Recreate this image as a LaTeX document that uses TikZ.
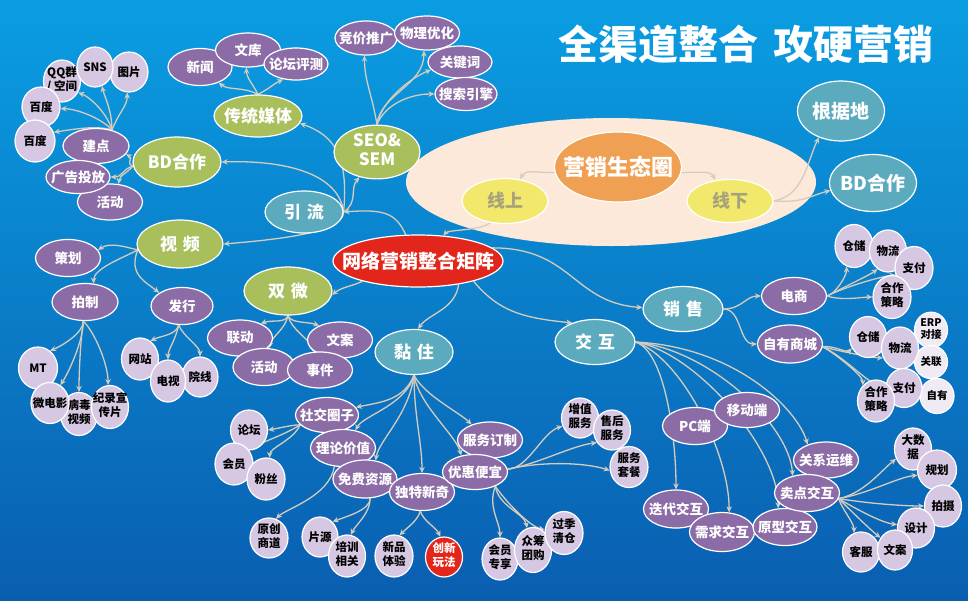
\documentclass[tikz,border=0pt]{standalone}
\usepackage{fontspec}
\setmainfont{Noto Sans CJK SC}
\usetikzlibrary{shapes.geometric,arrows.meta}
\pgfdeclarelayer{bg}
\pgfdeclarelayer{edges}
\pgfsetlayers{bg,edges,main}
\definecolor{bgtop}{HTML}{0A9DE2}
\definecolor{bgbot}{HTML}{0A5EB0}
\definecolor{purp}{HTML}{8C6CA6}
\definecolor{lav}{HTML}{D6C8E2}
\definecolor{lavw}{HTML}{EFEAF3}
\definecolor{grn}{HTML}{A8BF5C}
\definecolor{tealc}{HTML}{5BAABD}
\definecolor{redc}{HTML}{E3261B}
\definecolor{orng}{HTML}{EFA052}
\definecolor{yel}{HTML}{F2E96C}
\definecolor{yeltext}{HTML}{A6A27C}
\definecolor{cream}{HTML}{FCE9DA}
\definecolor{edgec}{HTML}{D4CDBE}
\newcommand\mk[1]{\makebox[0pt]{#1}}
\newcommand\mkk[2]{\makebox[0pt]{\begin{tabular}{@{}c@{}}#1\\#2\end{tabular}}}
\begin{document}
\begin{tikzpicture}[x=1pt,y=-1pt,
  sz/.style 2 args={minimum width=#1pt,minimum height=#2pt},
  base/.style={ellipse,inner sep=0pt,draw=white,line width=1.2pt},
  pn/.style={base,fill=purp,text=white,font=\bfseries\fontsize{13.5}{15}\selectfont},
  ln/.style={base,fill=lav,text=black,font=\bfseries\fontsize{11.5}{14}\selectfont},
  lw/.style={ln,fill=lavw,font=\bfseries\fontsize{10.5}{12.5}\selectfont},
  gn/.style={base,fill=grn,text=white,font=\bfseries\fontsize{17}{19}\selectfont},
  tn/.style={base,fill=tealc,text=white,font=\bfseries\fontsize{17}{19}\selectfont},
  yn/.style={base,fill=yel,text=yeltext,font=\bfseries\fontsize{18}{20}\selectfont},
  cn/.style={draw=edgec,line width=1.3pt,-{Stealth[length=6pt,width=5.5pt]}}]
\useasboundingbox (0,0) rectangle (968,600);
\begin{pgfonlayer}{bg}
\fill[top color=bgtop,bottom color=bgbot] (0,0) rectangle (968,600);
\fill[cream] (611,182) ellipse (205 and 64);
\end{pgfonlayer}

\node[font=\bfseries\fontsize{40}{42}\selectfont,text=white] (title) at (746,44) {全渠道整合\hspace{15pt}攻硬营销};

% ---------- ecosystem ----------
\node[base,fill=orng,text=white,font=\bfseries\fontsize{22}{24}\selectfont,sz={127}{70}] (ysq) at (618,167) {\mk{营销生态圈}};
\node[yn,sz={86}{45}] (xs) at (505,201) {\mk{线上}};
\node[yn,sz={86}{43}] (xx) at (730,201) {\mk{线下}};
\node[tn,font=\bfseries\fontsize{19}{21}\selectfont,sz={87}{60}] (gjd) at (841,111) {\mk{根据地}};
\node[tn,font=\bfseries\fontsize{19}{21}\selectfont,sz={87}{57}] (bd2) at (873,183) {\mk{BD合作}};

% ---------- center ----------
\node[base,fill=redc,text=white,font=\bfseries\fontsize{19}{21}\selectfont,sz={170}{52}] (wl) at (418,261) {\mk{网络营销整合矩阵}};

% ---------- top left ----------
\node[ln,sz={38}{40}] (tp) at (129,72) {\mk{图片}};
\node[ln,sz={37}{42}] (qq) at (62,81) {\mkk{QQ群}{/ 空间}};
\node[ln,sz={36}{40}] (sns) at (95,67) {\mk{SNS}};
\node[ln,sz={38}{40}] (bda) at (41,107) {\mk{百度}};
\node[ln,sz={40}{42}] (bdb) at (35,141) {\mk{百度}};
\node[pn,sz={65}{36}] (hd1) at (110,202) {\mk{活动}};
\node[pn,sz={66}{35}] (jd) at (96,146) {\mk{建点}};
\node[pn,sz={64}{33}] (ggtf) at (78,177) {\mk{广告投放}};
\node[gn,sz={88}{50}] (bd1) at (177,162) {\mk{BD合作}};

% ---------- top middle ----------
\node[pn,sz={64}{37}] (xw) at (200,67) {\mk{新闻}};
\node[pn,sz={65}{34}] (wk) at (248,50) {\mk{文库}};
\node[pn,sz={64}{32}] (ltpc) at (296,64) {\mk{论坛评测}};
\node[gn,sz={88}{42}] (ctmt) at (258,116) {\mk{传统媒体}};
\node[pn,sz={62}{34}] (jjtg) at (366,38) {\mk{竞价推广}};
\node[pn,sz={65}{34}] (wlyh) at (427,33) {\mk{物理优化}};
\node[pn,sz={64}{32}] (gjc) at (460,62) {\mk{关键词}};
\node[pn,sz={62}{33}] (ssyq) at (466,94) {\mk{搜索引擎}};
\node[gn,sz={86}{52}] (seo) at (377,152) {\mkk{SEO\&}{SEM}};
\node[tn,sz={78}{42}] (yl) at (304,212) {\mk{引\hspace{6pt}流}};

% ---------- left ----------
\node[gn,sz={86}{48}] (sp) at (180,244) {\mk{视\hspace{6pt}频}};
\node[pn,sz={65}{37}] (ch) at (68,258) {\mk{策划}};
\node[pn,sz={66}{37}] (pz) at (85,302) {\mk{拍制}};
\node[pn,sz={62}{37}] (fx) at (182,306) {\mk{发行}};
\node[ln,sz={39}{42}] (mt) at (38,368) {\mk{MT}};
\node[ln,sz={37}{43}] (bdsp) at (79,414) {\mkk{病毒}{视频}};
\node[ln,sz={38}{41}] (wdy) at (50,403) {\mk{微电影}};
\node[ln,sz={37}{43}] (jlp) at (110,407) {\mkk{纪录宣}{传片}};
\node[ln,sz={37}{42}] (wz) at (140,359) {\mk{网站}};
\node[ln,sz={36}{40}] (yxn) at (200,377) {\mk{院线}};
\node[ln,sz={35}{42}] (dsh) at (168,381) {\mk{电视}};

% ---------- 双微 ----------
\node[gn,sz={88}{48}] (sw) at (288,291) {\mk{双\hspace{6pt}微}};
\node[pn,sz={65}{36}] (ld) at (240,338) {\mk{联动}};
\node[pn,sz={65}{36}] (wa) at (340,340) {\mk{文案}};
\node[pn,sz={62}{37}] (hd2) at (264,367) {\mk{活动}};
\node[pn,sz={65}{36}] (sjian) at (320,370) {\mk{事件}};

% ---------- 黏住 ----------
\node[tn,sz={78}{45}] (nz) at (414,352) {\mk{黏\hspace{6pt}住}};
\node[pn,sz={63}{35}] (sjqz) at (327,415) {\mk{社交圈子}};
\node[pn,sz={65}{37}] (llzj) at (343,448) {\mk{理论价值}};
\node[pn,sz={64}{38}] (mfzy) at (365,479) {\mk{免费资源}};
\node[pn,sz={65}{37}] (dtxq) at (422,492) {\mk{独特新奇}};
\node[pn,sz={65}{36}] (fwdz) at (490,440) {\mk{服务订制}};
\node[pn,sz={65}{35}] (yhpy) at (475,472) {\mk{优惠便宜}};
\node[ln,sz={37}{40}] (lt) at (249,430) {\mk{论坛}};
\node[ln,sz={38}{42}] (hy) at (234,464) {\mk{会员}};
\node[ln,sz={38}{42}] (fs) at (266,479) {\mk{粉丝}};
\node[ln,sz={38}{40}] (ycsd) at (269,538) {\mkk{原创}{商道}};
\node[ln,sz={36}{40}] (py) at (320,537) {\mk{片源}};
\node[ln,sz={37}{42}] (pxxg) at (347,556) {\mkk{培训}{相关}};
\node[ln,sz={38}{42}] (xpty) at (394,556) {\mkk{新品}{体验}};
\node[ln,fill=redc,text=white,sz={37}{40}] (cxwf) at (444,557) {\mkk{创新}{玩法}};
\node[ln,sz={37}{40}] (zzfw) at (580,418) {\mkk{增值}{服务}};
\node[ln,sz={37}{40}] (shfw) at (612,430) {\mkk{售后}{服务}};
\node[ln,sz={38}{41}] (fwtc) at (629,467) {\mkk{服务}{套餐}};
\node[ln,sz={36}{42}] (hyzx) at (500,559) {\mkk{会员}{专享}};
\node[ln,sz={37}{45}] (zctg) at (533,550) {\mkk{众筹}{团购}};
\node[ln,sz={38}{43}] (gjqc) at (564,533) {\mkk{过季}{清仓}};

% ---------- 销售 ----------
\node[tn,sz={80}{45}] (xsh) at (683,309) {\mk{销\hspace{6pt}售}};
\node[pn,sz={65}{37}] (ds) at (794,296) {\mk{电商}};
\node[pn,sz={65}{38}] (zysc) at (790,344) {\mk{自有商城}};
\node[ln,sz={38}{43}] (cc1) at (854,246) {\mk{仓储}};
\node[ln,sz={37}{42}] (wl1) at (888,251) {\mk{物流}};
\node[ln,sz={38}{43}] (zf1) at (914,268) {\mk{支付}};
\node[ln,sz={38}{43}] (hzcl1) at (892,297) {\mkk{合作}{策略}};
\node[lw,sz={33}{34}] (erp) at (931,330) {\mkk{ERP}{对接}};
\node[lw,sz={33}{33}] (gl) at (931,362) {\mk{关联}};
\node[lw,sz={34}{35}] (zy) at (937,396) {\mk{自有}};
\node[ln,sz={37}{41}] (cc2) at (868,337) {\mk{仓储}};
\node[ln,sz={37}{42}] (wl2) at (900,348) {\mk{物流}};
\node[ln,sz={36}{39}] (zf2) at (904,388) {\mk{支付}};
\node[ln,sz={37}{42}] (hzcl2) at (876,401) {\mkk{合作}{策略}};

% ---------- 交互 ----------
\node[tn,sz={80}{45}] (jh) at (595,342) {\mk{交\hspace{6pt}互}};
\node[pn,sz={65}{37}] (pc) at (695,426) {\mk{PC端}};
\node[pn,sz={65}{35}] (yd) at (747,410) {\mk{移动端}};
\node[pn,sz={65}{36}] (gxyw) at (826,460) {\mk{关系运维}};
\node[pn,sz={65}{38}] (ddjh) at (676,509) {\mk{迭代交互}};
\node[pn,sz={65}{39}] (xqjh) at (722,532) {\mk{需求交互}};
\node[pn,sz={64}{37}] (yxjh) at (785,527) {\mk{原型交互}};
\node[pn,sz={65}{37}] (mdjh) at (807,493) {\mk{卖点交互}};
\node[ln,sz={37}{42}] (dsj) at (913,449) {\mkk{大数}{据}};
\node[ln,sz={39}{40}] (gh) at (937,470) {\mk{规划}};
\node[ln,sz={37}{42}] (ps) at (943,506) {\mk{拍摄}};
\node[ln,sz={37}{40}] (sj2) at (916,528) {\mk{设计}};
\node[ln,sz={37}{40}] (kf) at (861,552) {\mk{客服}};
\node[ln,sz={35}{40}] (wa2) at (895,550) {\mk{文案}};

\begin{pgfonlayer}{edges}
% top-left
\draw[cn] (jd.45) .. controls +(0,-20) and +(3,12) .. (sns.-70);
\draw[cn] (jd.45) .. controls +(8,-20) and +(0,14) .. (tp.-95);
\draw[cn] (jd.45) .. controls +(-4,-15) and +(14,6) .. (qq.-35);
\draw[cn] (jd.45) .. controls +(-8,-10) and +(18,0) .. (bda.-5);
\draw[cn] (jd.45) .. controls +(-15,-5) and +(20,-3) .. (bdb.25);
\draw[cn] (bd1.185) .. controls +(-8,-3) and +(8,5) .. (jd.-15);
\draw[cn] (bd1.185) .. controls +(-10,3) and +(12,0) .. (ggtf.east);
\draw[cn] (bd1.185) .. controls +(-6,8) and +(2,-10) .. (hd1.65);
% 引流
\draw[cn] (yl.east) .. controls +(15,-10) and +(-10,12) .. (seo.-125);
\draw[cn] (yl.east) .. controls +(5,-55) and +(35,12) .. (ctmt.-10);
\draw[cn] (yl.east) .. controls +(-5,-40) and +(60,-2) .. (bd1.east);
\draw[cn] (yl.east) .. controls +(0,20) and +(60,-5) .. (sp.east);
\draw[cn] (wl.115) .. controls +(-10,-22) and +(40,-3) .. (yl.east);
% 双微
\draw[cn] (wl.200) .. controls +(-10,5) and +(10,-8) .. (sw.-5);
\draw[cn] (sw.south) .. controls +(-3,8) and +(12,-4) .. (ld.35);
\draw[cn] (sw.south) .. controls +(-3,14) and +(3,-12) .. (hd2.75);
\draw[cn] (sw.south) .. controls +(3,14) and +(-3,-12) .. (sjian.110);
\draw[cn] (sw.south) .. controls +(3,8) and +(-12,-4) .. (wa.145);
% 视频
\draw[cn] (sp.188) .. controls +(-12,-3) and +(12,-8) .. (ch.15);
\draw[cn] (sp.188) .. controls +(-15,8) and +(0,-15) .. (pz.65);
\draw[cn] (sp.188) .. controls +(-10,25) and +(-12,-10) .. (fx.150);
\draw[cn] (pz.-95) .. controls +(0,12) and +(12,-5) .. (mt.55);
\draw[cn] (pz.-95) .. controls +(0,20) and +(8,-12) .. (wdy.60);
\draw[cn] (pz.-95) .. controls +(-3,20) and +(0,-18) .. (bdsp.north);
\draw[cn] (pz.-95) .. controls +(12,12) and +(0,-20) .. (jlp.95);
\draw[cn] (fx.-100) .. controls +(-2,10) and +(10,-5) .. (wz.60);
\draw[cn] (fx.-100) .. controls +(-3,15) and +(0,-10) .. (dsh.north);
\draw[cn] (fx.-100) .. controls +(5,12) and +(0,-10) .. (yxn.north);
% 传统媒体 / SEO
\draw[cn] (ctmt.north) .. controls +(-15,-8) and +(10,8) .. (xw.-40);
\draw[cn] (ctmt.north) .. controls +(-5,-10) and +(0,10) .. (wk.-95);
\draw[cn] (ctmt.north) .. controls +(15,-8) and +(-12,6) .. (ltpc.-130);
\draw[cn] (seo.north) .. controls +(-5,-30) and +(0,25) .. (jjtg.-95);
\draw[cn] (seo.north) .. controls +(3,-30) and +(0,35) .. (wlyh.-100);
\draw[cn] (seo.north) .. controls +(5,-25) and +(-20,8) .. (gjc.-165);
\draw[cn] (seo.north) .. controls +(8,-20) and +(-25,0) .. (ssyq.west);
% ecosystem
\draw[cn] (ysq.185) .. controls +(-20,0) and +(5,-10) .. (xs.55);
\draw[cn] (ysq.-5) .. controls +(20,0) and +(-5,-10) .. (xx.125);
\draw[cn] (xx.east) .. controls +(30,-5) and +(-12,25) .. (gjd.-130);
\draw[cn] (xx.east) .. controls +(30,2) and +(-20,5) .. (bd2.190);
\draw[cn] (xs.-125) .. controls +(-8,8) and +(5,-6) .. (wl.45);
% red -> 销售 / 交互 / 黏住
\draw[cn] (wl.10) .. controls +(80,0) and +(-70,-5) .. (xsh.178);
\draw[cn] (wl.-20) .. controls +(25,30) and +(-50,-5) .. (jh.140);
\draw[cn] (wl.-30) .. controls +(-3,25) and +(10,-15) .. (nz.80);
% 销售
\draw[cn] (xsh.east) .. controls +(18,0) and +(-15,0) .. (ds.west);
\draw[cn] (xsh.east) .. controls +(18,0) and +(-18,0) .. (zysc.west);
\draw[cn] (ds.east) .. controls +(8,-2) and +(0,10) .. (cc1.-110);
\draw[cn] (ds.east) .. controls +(15,-8) and +(-8,6) .. (wl1.-120);
\draw[cn] (ds.east) .. controls +(20,-10) and +(-15,2) .. (zf1.-160);
\draw[cn] (ds.east) .. controls +(15,5) and +(-10,0) .. (hzcl1.west);
\draw[cn] (zysc.-5) .. controls +(10,-2) and +(-5,5) .. (cc2.-145);
\draw[cn] (zysc.-5) .. controls +(20,5) and +(-10,0) .. (wl2.-150);
\draw[cn] (zysc.-5) .. controls +(22,10) and +(-15,0) .. (zf2.175);
\draw[cn] (zysc.-5) .. controls +(10,5) and +(0,-10) .. (hzcl2.130);
% 交互
\draw[cn] (jh.east) .. controls +(30,10) and +(0,-50) .. (ddjh.north);
\draw[cn] (jh.east) .. controls +(45,15) and +(0,-60) .. (xqjh.70);
\draw[cn] (jh.east) .. controls +(60,10) and +(0,-60) .. (yxjh.110);
\draw[cn] (jh.east) .. controls +(75,8) and +(-3,-50) .. (mdjh.130);
\draw[cn] (jh.east) .. controls +(100,5) and +(-10,-35) .. (gxyw.140);
\draw[cn] (mdjh.-10) .. controls +(25,-5) and +(-15,12) .. (dsj.-150);
\draw[cn] (mdjh.-10) .. controls +(30,-5) and +(-20,2) .. (gh.-165);
\draw[cn] (mdjh.-10) .. controls +(30,5) and +(-20,0) .. (ps.west);
\draw[cn] (mdjh.-10) .. controls +(20,12) and +(-15,-2) .. (sj2.170);
\draw[cn] (mdjh.-10) .. controls +(15,15) and +(-10,-8) .. (wa2.140);
\draw[cn] (mdjh.-10) .. controls +(3,10) and +(0,-10) .. (kf.110);
% 黏住
\draw[cn] (nz.south) .. controls +(-10,25) and +(25,-5) .. (sjqz.15);
\draw[cn] (nz.south) .. controls +(-8,30) and +(8,-15) .. (llzj.55);
\draw[cn] (nz.south) .. controls +(-5,40) and +(3,-20) .. (mfzy.60);
\draw[cn] (nz.south) .. controls +(0,40) and +(0,-30) .. (dtxq.north);
\draw[cn] (nz.south) .. controls +(5,30) and +(-5,-20) .. (yhpy.130);
\draw[cn] (nz.south) .. controls +(10,20) and +(-12,-12) .. (fwdz.140);
\draw[cn] (sjqz.200) .. controls +(-8,0) and +(12,-2) .. (lt.east);
\draw[cn] (sjqz.200) .. controls +(-15,10) and +(10,-6) .. (hy.45);
\draw[cn] (sjqz.200) .. controls +(-6,15) and +(0,-10) .. (fs.80);
\draw[cn] (llzj.-115) .. controls +(-5,30) and +(10,-10) .. (ycsd.70);
\draw[cn] (mfzy.-75) .. controls +(0,12) and +(12,-5) .. (py.50);
\draw[cn] (mfzy.-75) .. controls +(0,15) and +(5,-10) .. (pxxg.80);
\draw[cn] (dtxq.-95) .. controls +(-3,10) and +(8,-8) .. (xpty.75);
\draw[cn] (dtxq.-95) .. controls +(3,10) and +(-5,-10) .. (cxwf.100);
\draw[cn] (yhpy.5) .. controls +(20,0) and +(-20,6) .. (zzfw.-155);
\draw[cn] (yhpy.5) .. controls +(30,-5) and +(-25,3) .. (shfw.-140);
\draw[cn] (yhpy.5) .. controls +(35,-8) and +(-25,-8) .. (fwtc.-170);
\draw[cn] (yhpy.-35) .. controls +(-8,20) and +(0,-15) .. (hyzx.north);
\draw[cn] (yhpy.-35) .. controls +(3,20) and +(-3,-15) .. (zctg.105);
\draw[cn] (yhpy.-35) .. controls +(10,15) and +(-15,-3) .. (gjqc.170);
\end{pgfonlayer}
\end{tikzpicture}
\end{document}
